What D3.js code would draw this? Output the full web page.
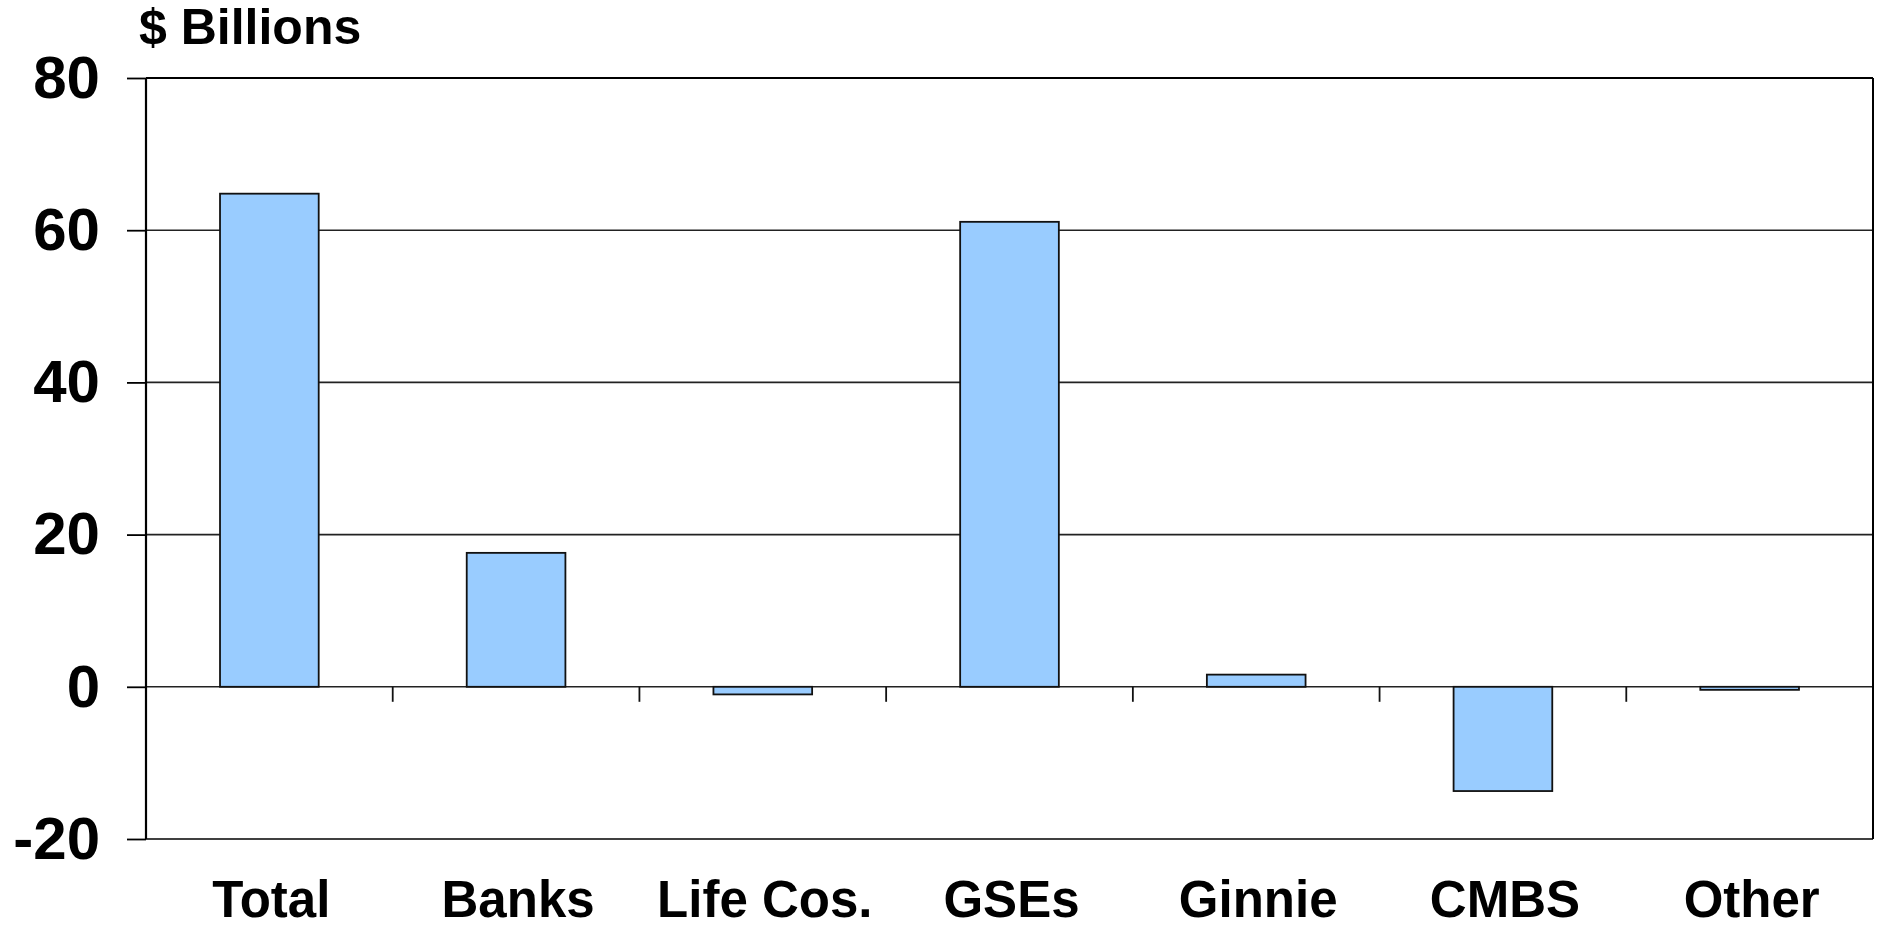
<!DOCTYPE html>
<html><head><meta charset="utf-8">
<script src="https://cdn.jsdelivr.net/npm/d3@7"></script>
<style>html,body{margin:0;padding:0;background:#fff;}svg{display:block;}</style>
</head><body>
<svg id="chart" width="1878" height="927"></svg>
<script>
const categories = ["Total", "Banks", "Life Cos.", "GSEs", "Ginnie", "CMBS", "Other"];
const values = [64.8, 17.6, -1.0, 61.1, 1.6, -13.7, -0.4];
const yTicks = [-20, 0, 20, 40, 60, 80];
const yLabel = "$ Billions";

const svg = d3.select("#chart");
const m = {left: 146, right: 1873, top: 78, bottom: 839};
const font = "'Liberation Sans', Arial, sans-serif";

const x = d3.scaleBand().domain(categories).range([m.left, m.right]).paddingInner(0.6).paddingOuter(0.3);
const y = d3.scaleLinear().domain([-20, 80]).range([m.bottom, m.top]);

// gridlines
svg.append("g").selectAll("line").data(yTicks).join("line")
  .attr("x1", m.left).attr("x2", m.right)
  .attr("y1", d => y(d)).attr("y2", d => y(d))
  .attr("stroke", d => (d === 80 || d === -20) ? "#000" : "#222")
  .attr("stroke-width", d => d === 80 ? 2.2 : 1.6);

// right border
svg.append("line").attr("x1", m.right).attr("x2", m.right).attr("y1", m.top).attr("y2", m.bottom)
  .attr("stroke", "#000").attr("stroke-width", 2);

// bars
svg.append("g").selectAll("rect").data(values).join("rect")
  .attr("x", (d, i) => x(categories[i]))
  .attr("width", x.bandwidth())
  .attr("y", d => y(Math.max(0, d)))
  .attr("height", d => Math.abs(y(d) - y(0)))
  .attr("fill", "#99CCFF").attr("stroke", "#111").attr("stroke-width", 1.8);

// y axis
const yAxis = d3.axisLeft(y).tickValues(yTicks).tickSize(19).tickPadding(28).tickFormat(d => String(d));
const gy = svg.append("g").attr("transform", `translate(${m.left},0)`).call(yAxis);
gy.select(".domain").attr("stroke", "#000").attr("stroke-width", 2.2).attr("d", `M0,${m.top}V${m.bottom}`);
gy.selectAll(".tick line").attr("stroke", "#000").attr("stroke-width", 1.8);
gy.selectAll(".tick text").attr("font-family", font).attr("font-weight", "bold").attr("font-size", 60)
  .attr("fill", "#000").attr("x", -46);

// x category separator ticks at zero line
const step = x.step();
const seps = d3.range(1, categories.length);
svg.append("g").selectAll("line").data(seps).join("line")
  .attr("x1", d => m.left + d * step).attr("x2", d => m.left + d * step)
  .attr("y1", y(0)).attr("y2", y(0) + 15)
  .attr("stroke", "#111").attr("stroke-width", 1.8);

// category labels
svg.append("g").selectAll("text").data(categories).join("text")
  .attr("x", d => x(d) + x.bandwidth() / 2 + 2)
  .attr("y", 917)
  .attr("text-anchor", "middle")
  .attr("font-family", font).attr("font-weight", "bold").attr("font-size", 51)
  .attr("fill", "#000")
  .text(d => d);

// y label
svg.append("text").attr("x", 139).attr("y", 44)
  .attr("font-family", font).attr("font-weight", "bold").attr("font-size", 50)
  .attr("fill", "#000").text(yLabel);
</script>
</body></html>
